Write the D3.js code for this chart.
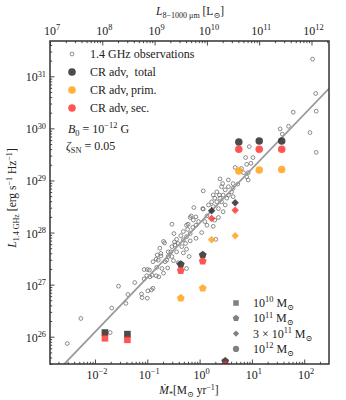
<!DOCTYPE html>
<html>
<head>
<meta charset="utf-8">
<script src="https://cdn.jsdelivr.net/npm/d3@7"></script>
<style>
  body { margin: 0; background: #fff; }
  text { font-family: "Liberation Serif", "DejaVu Serif", serif; fill: #222; }
</style>
</head>
<body>
<svg width="346" height="400"></svg>
<script>
// observed 1.4 GHz sample (log10 SFR [Msun/yr], log10 L1.4 [erg/s/Hz])
const obsLogSfr = [-2.53,-2.27,-1.68,-1.71,-1.55,-1.24,-1.37,-1.41,-1.11,-1.10,-1.00,-0.99,-0.92,-1.06,-1.00,-1.01,-1.06,-0.91,-0.89,-0.83,
  -0.74,-0.69,-0.76,-0.72,-0.69,-0.61,-0.63,-0.60,-0.55,-0.53,-0.49,-0.48,-0.53,0.07,-0.11,0.06,-0.16,-0.07,-0.22,-0.07,
  -0.13,-0.23,-0.31,-0.18,0.04,-0.36,-0.25,-0.07,-0.44,-0.31,-0.18,-0.67,-0.41,-0.27,-0.47,-0.34,-0.25,-0.60,-0.44,-0.31,
  -0.20,-0.81,-0.74,-0.53,-0.79,-0.66,-0.50,-0.41,-0.25,-0.96,-0.82,-0.95,-0.83,-0.78,-0.89,0.95,0.88,1.02,0.90,0.98,
  0.68,0.80,0.93,0.90,0.93,0.39,0.44,0.55,0.64,0.73,0.42,0.55,0.64,0.49,0.61,0.33,0.26,0.38,0.45,0.55,
  0.29,0.39,0.52,0.64,0.23,0.33,0.42,0.49,0.17,0.26,0.36,0.45,0.14,0.36,-0.12,-0.02,0.10,0.29,-0.25,0.14,
  0.26,2.16,2.22,2.23,1.79,1.70,1.54,1.58,2.11,2.23,0.31,0.84,0.07,-0.18];
const obsLogL = [25.87,26.35,26.55,26.08,26.97,27.04,26.81,26.64,26.82,26.75,26.74,26.88,26.90,27.29,27.29,27.17,27.11,27.18,27.44,27.49,
  27.60,27.83,27.70,27.31,27.22,27.32,27.47,27.54,27.63,28.16,27.98,27.82,27.73,28.80,28.48,28.46,28.32,28.30,28.16,28.14,
  28.10,28.06,28.02,27.98,28.00,27.94,27.92,27.89,27.87,27.86,27.84,27.80,27.79,27.79,27.76,27.73,27.68,27.63,27.63,27.61,
  27.54,27.57,27.55,27.54,27.47,27.44,27.46,27.42,27.31,27.28,27.33,27.15,27.17,27.15,26.93,29.65,29.44,29.44,29.31,29.33,
  29.25,29.23,29.15,29.07,29.01,29.03,28.94,29.01,28.94,28.93,28.88,28.88,28.85,28.82,28.78,28.78,28.72,28.72,28.72,28.72,
  28.66,28.66,28.66,28.69,28.59,28.59,28.59,28.53,28.53,28.50,28.46,28.40,28.32,28.29,28.24,28.21,28.21,28.24,28.14,28.14,
  28.12,31.33,30.67,30.33,30.31,30.04,29.99,29.89,29.92,29.54,27.87,29.15,28.45,28.29];

// CR advection models
const modelLogSfr = [-1.81,-1.38,-0.36,0.06,0.49,0.23,0.68,0.75,1.14,1.57];
const modelHalo   = ["1e10","1e10","1e11","1e11","1e11","3e11","3e11","1e12","1e12","1e12"];
const modelLogTotal = [26.08,26.05,27.39,27.57,25.53,28.42,28.57,29.74,29.76,29.76];
const modelLogPrim  = [25.42,25.20,26.74,26.93,25.10,27.86,27.94,29.18,29.20,29.21];
const modelLogSec   = [25.97,25.94,27.27,27.45,25.46,28.27,28.43,29.60,29.60,29.60];

// FIR-radio best fit: log L = norm + slope * log SFR
const fitSlope = 1.045, fitLogNorm = 28.18;

const haloLabels = [["10","10"],["10","11"],["3 × 10","11"],["10","12"]];
const haloKeys = ["1e10","1e11","3e11","1e12"];

const svg = d3.select("svg");
const L = 50, R = 329, T = 41, B = 364;
const ink = "#333";

var x = d3.scaleLog().domain([Math.pow(10,-2.86), Math.pow(10,2.474)]).range([L, R]);
var xTop = d3.scaleLog().domain([1e7, Math.pow(10,12.335)]).range([L, R]);
var y = d3.scaleLog().domain([Math.pow(10,25.476), Math.pow(10,31.678)]).range([B, T]);

// marker shapes
const pentagon = { draw(ctx, size) {
  const r = Math.sqrt(size / 2.378);
  for (let k = 0; k < 5; k++) {
    const a = -Math.PI/2 + k * 2*Math.PI/5;
    k ? ctx.lineTo(r*Math.cos(a), r*Math.sin(a)) : ctx.moveTo(r*Math.cos(a), r*Math.sin(a));
  }
  ctx.closePath();
}};
const diamond = { draw(ctx, size) {
  const r = Math.sqrt(size / 2);
  ctx.moveTo(0,-r); ctx.lineTo(r,0); ctx.lineTo(0,r); ctx.lineTo(-r,0); ctx.closePath();
}};
const shapes = { "1e10": [d3.symbolSquare, 44], "1e11": [pentagon, 40], "3e11": [diamond, 28], "1e12": [d3.symbolCircle, 44] };

// rich text helper: parts = [{t, i, sub, sup}]
function rich(g, px, py, parts, size, anchor) {
  const t = g.append("text").attr("x", px).attr("y", py).attr("font-size", size)
    .attr("text-anchor", anchor || "start");
  let shift = 0;
  parts.forEach(p => {
    const target = p.sub ? size*0.25 : p.sup ? -size*0.38 : 0;
    const ts = t.append("tspan").text(p.t).attr("dy", target - shift);
    shift = target;
    if (p.sub || p.sup) ts.attr("font-size", size*0.7);
    if (p.i) ts.attr("font-style", "italic");
  });
  return t;
}

svg.append("clipPath").attr("id","clip").append("rect")
  .attr("x", L).attr("y", T).attr("width", R-L).attr("height", B-T);

// ticks
function logTicks(scale) {
  const [a, b] = scale.domain();
  const out = [];
  for (let e = Math.floor(Math.log10(a)); e <= Math.ceil(Math.log10(b)); e++)
    for (let m = 1; m < 10; m++) { const v = m * Math.pow(10, e); if (v >= a && v <= b) out.push(v); }
  return out;
}
const isMajor = v => Math.abs(Math.log10(v) - Math.round(Math.log10(v))) < 1e-6;

function drawTicks(axisFn, scale, tr) {
  const all = logTicks(scale);
  const g1 = svg.append("g").attr("transform", tr)
    .call(axisFn(scale).tickValues(all.filter(v => !isMajor(v))).tickSize(-2.2).tickFormat(""));
  const g2 = svg.append("g").attr("transform", tr)
    .call(axisFn(scale).tickValues(all.filter(isMajor)).tickSize(-4.5).tickFormat(""));
  [g1, g2].forEach(g => { g.select(".domain").remove(); g.selectAll("line").attr("stroke", ink).attr("stroke-width", 0.9); });
}
drawTicks(d3.axisBottom, x, `translate(0,${B})`);
drawTicks(d3.axisTop, xTop, `translate(0,${T})`);
drawTicks(d3.axisLeft, y, `translate(${L},0)`);

const exp = v => { const e = Math.round(Math.log10(v)); return (e < 0 ? "\u2212" : "") + Math.abs(e); };
const labels = svg.append("g");
logTicks(x).filter(isMajor).forEach(v => rich(labels, x(v) + 2, 379, [{t:"10"},{t:exp(v),sup:true}], 12, "middle"));
logTicks(xTop).filter(isMajor).forEach(v => rich(labels, xTop(v) + 2, 35, [{t:"10"},{t:exp(v),sup:true}], 12, "middle"));
logTicks(y).filter(isMajor).forEach(v => rich(labels, 46, y(v) + 5, [{t:"10"},{t:exp(v),sup:true}], 12, "end"));

// axis titles
rich(labels, 189, 394, [{t:"Ṁ",i:true},{t:"*",sub:true},{t:"[M"},{t:"⊙",sub:true},{t:" yr"},{t:"−1",sup:true},{t:"]"}], 11.5, "middle");
rich(labels, 190, 15, [{t:"L",i:true},{t:"8−1000 μm",sub:true},{t:" [L"},{t:"⊙",sub:true},{t:"]"}], 11.5, "middle");
rich(labels, 0, 0, [{t:"L",i:true},{t:"1.4 GHz",sub:true},{t:"  [erg s"},{t:"−1",sup:true},{t:" Hz"},{t:"−1",sup:true},{t:"]"}], 11.5, "middle")
  .attr("transform", "translate(16,198) rotate(-90)");

// data layer
const plot = svg.append("g").attr("clip-path", "url(#clip)");

plot.selectAll("circle.obs").data(obsLogSfr).join("circle").attr("class","obs")
  .attr("cx", (d) => x(Math.pow(10, d)))
  .attr("cy", (d, i) => y(Math.pow(10, obsLogL[i])))
  .attr("r", 1.9).attr("fill", "none").attr("stroke", "#666").attr("stroke-width", 0.75);

const fitLine = d3.line().x(d => x(d)).y(d => y(Math.pow(10, fitLogNorm) * Math.pow(d, fitSlope)));
plot.append("path").datum(x.domain()).attr("d", fitLine)
  .attr("stroke", "#999").attr("stroke-width", 1.8).attr("fill", "none");

const series = [
  { vals: modelLogTotal, color: "#2b2b2b", op: 0.85 },
  { vals: modelLogPrim,  color: "#ffa31a", op: 0.85 },
  { vals: modelLogSec,   color: "#ff2b2b", op: 0.8 }
];
series.forEach(s => {
  plot.append("g").selectAll("path").data(modelLogSfr).join("path")
    .attr("transform", (d, i) => `translate(${x(Math.pow(10, d))},${y(Math.pow(10, s.vals[i]))})`)
    .attr("d", (d, i) => { const sh = shapes[modelHalo[i]]; return d3.symbol().type(sh[0]).size(sh[1])(); })
    .attr("fill", s.color).attr("fill-opacity", s.op);
});

// frame
svg.append("rect").attr("x", L).attr("y", T).attr("width", R-L).attr("height", B-T)
  .attr("fill", "none").attr("stroke", ink).attr("stroke-width", 1.5);

// legend: samples
const leg = svg.append("g");
const legRows = [
  { t: "1.4 GHz observations", kind: "obs" },
  { t: "CR adv,\u2002total", color: "#2b2b2b", op: 0.85 },
  { t: "CR adv,\u2009prim.", color: "#ffa31a", op: 0.85 },
  { t: "CR adv,\u2009sec.", color: "#ff2b2b", op: 0.8 }
];
legRows.forEach((r, i) => {
  const cy = 54 + i * 18;
  if (r.kind === "obs") leg.append("circle").attr("cx", 72).attr("cy", cy).attr("r", 1.9)
    .attr("fill", "none").attr("stroke", "#666").attr("stroke-width", 0.75);
  else leg.append("circle").attr("cx", 72).attr("cy", cy).attr("r", 3.8).attr("fill", r.color).attr("fill-opacity", r.op);
  leg.append("text").attr("x", 90).attr("y", cy + 4).attr("font-size", 12).text(r.t);
});
rich(leg, 68, 133, [{t:"B",i:true},{t:"0",sub:true},{t:" = 10"},{t:"−12",sup:true},{t:" G"}], 12);
rich(leg, 66, 150, [{t:"ζ",i:true},{t:"SN",sub:true},{t:" = 0.05"}], 12);

// legend: halo masses
haloKeys.forEach((k, i) => {
  const cy = 303 + i * 15.3;
  const sh = shapes[k];
  leg.append("path").attr("transform", `translate(236,${cy})`)
    .attr("d", d3.symbol().type(sh[0]).size(sh[1] * 0.7)()).attr("fill", "#808080");
  rich(leg, 253, cy + 4, [{t:haloLabels[i][0]},{t:haloLabels[i][1],sup:true},{t:" M"},{t:"⊙",sub:true}], 12);
});
</script>
</body>
</html>
